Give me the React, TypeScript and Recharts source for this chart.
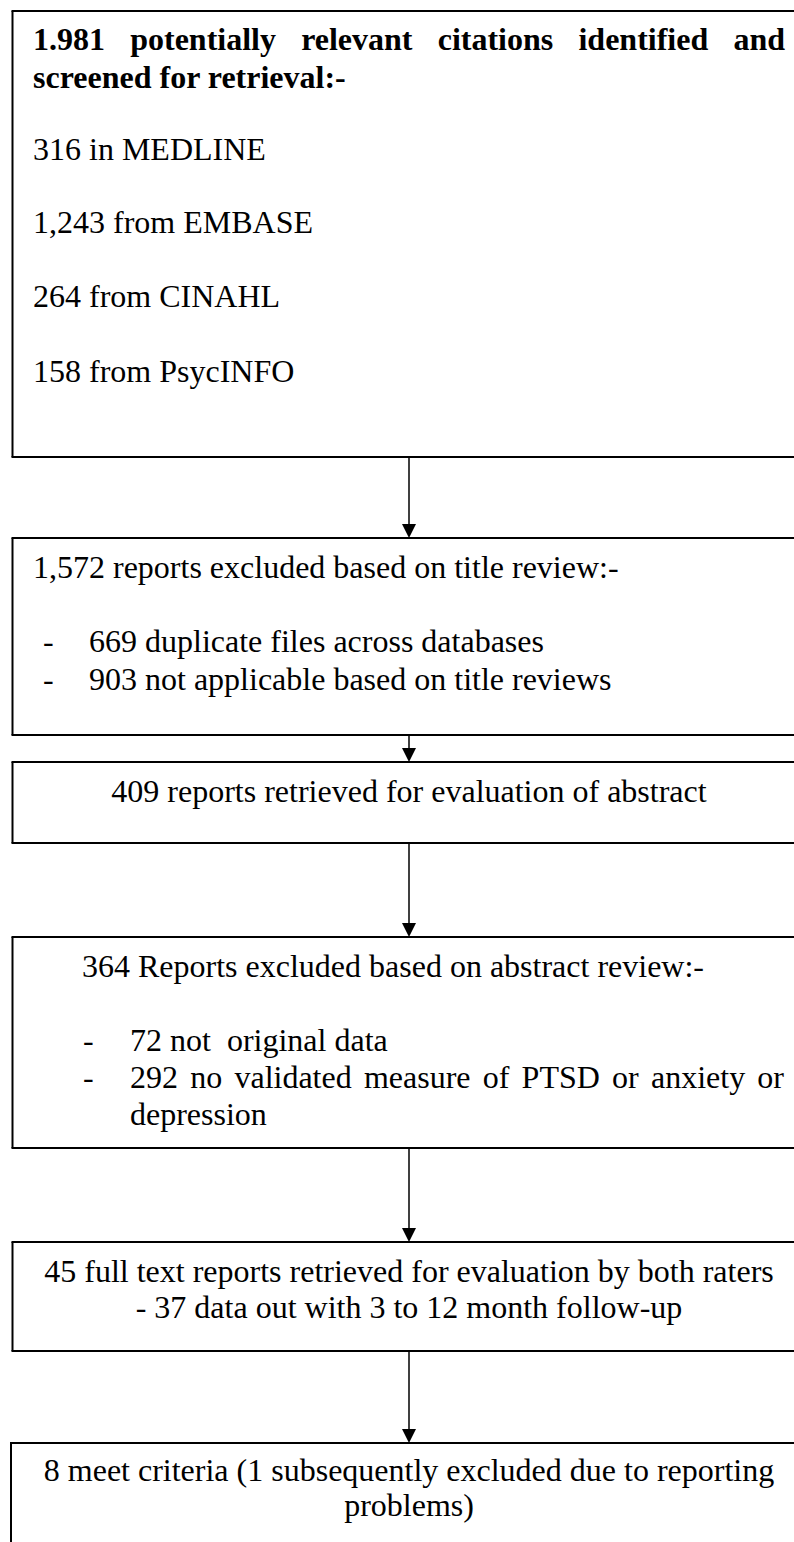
import { ScatterChart, Scatter, XAxis, YAxis, ReferenceLine, Customized } from 'recharts'

const W = 794
const H = 1542

// wording and counts of each stage, top to bottom
const searchHeading = ['1.981 potentially relevant citations identified and', 'screened for retrieval:-']
const databaseHits = ['316 in MEDLINE', '1,243 from EMBASE', '264 from CINAHL', '158 from PsycINFO']
const titleExcluded = '1,572 reports excluded based on title review:-'
const titleReasons = ['669 duplicate files across databases', '903 not applicable based on title reviews']
const abstractsRetrieved = '409 reports retrieved for evaluation of abstract'
const abstractExcluded = '364 Reports excluded based on abstract review:-'
const abstractReasons = ['72 not  original data', '292 no validated measure of PTSD or anxiety or']
const abstractReasonTail = 'depression'
const fullTextLines = ['45 full text reports retrieved for evaluation by both raters', '- 37 data out with 3 to 12 month follow-up']
const includedLines = ['8 meet criteria (1 subsequently excluded due to reporting', 'problems)']

// box layout (page pixels); boxes run off the right edge of the page
const boxes = [
    { x: 12.5, top: 11, bottom: 457 },
    { x: 12.5, top: 538, bottom: 735 },
    { x: 12.5, top: 762, bottom: 843 },
    { x: 12.5, top: 937, bottom: 1148 },
    { x: 12.5, top: 1242, bottom: 1351 },
    { x: 11, top: 1443, bottom: 1600 },
]
const arrowX = 409
const arrowTips = boxes.slice(1).map(b => ({ x: arrowX, y: b.top }))

const FONT = '"Liberation Serif", "Times New Roman", serif'
const SIZE = 32

let ctx: CanvasRenderingContext2D | null = null
function measure(s: string, bold: boolean) {
    if (!ctx) ctx = document.createElement('canvas').getContext('2d')
    ctx!.font = `${bold ? 'bold ' : ''}${SIZE}px ${FONT}`
    return ctx!.measureText(s).width
}

// spread words so the line fills x0..x1 (like a justified paragraph)
function Justified({ line, x0, x1, y, bold = false }: { line: string; x0: number; x1: number; y: number; bold?: boolean }) {
    const words = line.split(' ')
    const widths = words.map(w => measure(w, bold))
    const gap = (x1 - x0 - widths.reduce((a, b) => a + b, 0)) / (words.length - 1)
    let x = x0
    return (
        <>
            {words.map((w, i) => {
                const el = <text key={i} x={x} y={y} fontWeight={bold ? 'bold' : 'normal'}>{w}</text>
                x += widths[i] + gap
                return el
            })}
        </>
    )
}

function Labels() {
    return (
        <g fontFamily={FONT} fontSize={SIZE} fill="#000">
            <Justified line={searchHeading[0]} x0={33} x1={785} y={50} bold />
            <text x={33} y={88} fontWeight="bold">{searchHeading[1]}</text>
            {databaseHits.map((t, i) => (
                <text key={t} x={33} y={[160, 233, 307, 382][i]}>{t}</text>
            ))}

            <text x={33} y={578}>{titleExcluded}</text>
            {titleReasons.map((t, i) => (
                <g key={t}>
                    <text x={43} y={652 + i * 38}>-</text>
                    <text x={89} y={652 + i * 38}>{t}</text>
                </g>
            ))}

            <text x={arrowX} y={802} textAnchor="middle">{abstractsRetrieved}</text>

            <text x={82} y={977}>{abstractExcluded}</text>
            <text x={83} y={1051}>-</text>
            <text x={130} y={1051} style={{ whiteSpace: 'pre' }}>{abstractReasons[0]}</text>
            <text x={83} y={1088}>-</text>
            <Justified line={abstractReasons[1]} x0={130} x1={784} y={1088} />
            <text x={130} y={1125}>{abstractReasonTail}</text>

            {fullTextLines.map((t, i) => (
                <text key={t} x={arrowX} y={1282 + i * 36} textAnchor="middle">{t}</text>
            ))}
            {includedLines.map((t, i) => (
                <text key={t} x={arrowX} y={1481 + i * 35} textAnchor="middle">{t}</text>
            ))}
        </g>
    )
}

const ArrowHead = (props: any) => {
    const { cx, cy } = props
    return <path d={`M${cx},${cy} L${cx - 7},${cy - 14} L${cx + 7},${cy - 14} Z`} fill="#000" />
}

const edge = { stroke: '#000', strokeWidth: 2, ifOverflow: 'visible' as const }

export default function App() {
    return (
        <div style={{ position: 'absolute', left: 0, top: 0, width: W, height: H, background: '#fff' }}>
            <ScatterChart width={W} height={H} margin={{ top: 0, right: 0, bottom: 0, left: 0 }}>
                <XAxis type="number" dataKey="x" domain={[0, W]} hide allowDataOverflow />
                <YAxis type="number" dataKey="y" domain={[0, H]} reversed hide allowDataOverflow />
                {boxes.map((b, i) => (
                    <ReferenceLine key={`t${i}`} segment={[{ x: b.x - 1, y: b.top }, { x: W, y: b.top }]} {...edge} />
                ))}
                {boxes.map((b, i) => (
                    <ReferenceLine key={`b${i}`} segment={[{ x: b.x - 1, y: b.bottom }, { x: W, y: b.bottom }]} {...edge} />
                ))}
                {boxes.map((b, i) => (
                    <ReferenceLine key={`l${i}`} segment={[{ x: b.x, y: b.top }, { x: b.x, y: Math.min(b.bottom, H) }]} {...edge} />
                ))}
                {boxes.slice(1).map((b, i) => (
                    <ReferenceLine
                        key={`a${i}`}
                        segment={[{ x: arrowX, y: boxes[i].bottom }, { x: arrowX, y: b.top - 12 }]}
                        stroke="#000"
                        strokeWidth={1.5}
                        ifOverflow="visible"
                    />
                ))}
                <Scatter data={arrowTips} shape={ArrowHead} isAnimationActive={false} />
                <Customized component={Labels} />
            </ScatterChart>
        </div>
    )
}
